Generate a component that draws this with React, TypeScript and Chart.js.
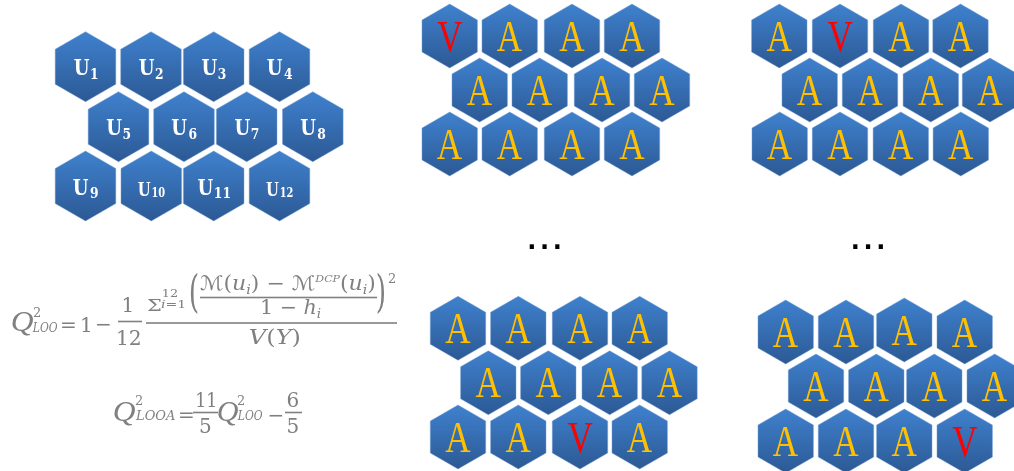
import React, { useEffect, useRef } from "react";
import { Chart, registerables } from "chart.js";

Chart.register(...registerables);

// ---- data ----
const unitIds = ["1", "2", "3", "4", "5", "6", "7", "8", "9", "10", "11", "12"];
const smallLabelUnits = ["10", "12"];
const unitsX = [85.5, 151, 213.7, 279.5, 118.5, 184, 246.7, 312.8, 85.5, 151.3, 213.7, 279.5];
const unitsY = [66.7, 66.7, 66.7, 66.7, 126.7, 126.7, 126.7, 126.7, 186, 186, 186, 186];

// left-out unit for each of the four folds shown
const validatedUnit = [1, 2, 11, 12];

const fold1X = [449.7, 509.7, 572, 632, 479.7, 539.7, 602, 662, 449.7, 509.7, 572, 632];
const fold1Y = [36, 36, 36, 36, 90, 90, 90, 90, 144, 144, 144, 144];
const fold2X = [779.3, 840, 901, 960.5, 809.7, 870, 930.8, 990, 779.7, 840, 900.8, 960.8];
const fold2Y = [36, 36, 36, 36, 90, 90, 90, 90, 144, 144, 144, 144];
const fold11X = [458, 518.3, 580, 639.7, 488.3, 548.3, 609.7, 669.5, 458, 518.3, 580, 639.7];
const fold11Y = [328.3, 328.3, 328.3, 328.3, 382.8, 382.8, 382.8, 382.8, 437, 437, 437, 437];
const fold12X = [785.7, 846, 904.3, 964.7, 816, 876.3, 934.3, 994.7, 785.7, 846, 904.3, 964.7];
const fold12Y = [332, 332, 330, 332, 386, 386, 386, 386, 441, 441, 441, 441];

const foldXs = [fold1X, fold2X, fold11X, fold12X];
const foldYs = [fold1Y, fold2Y, fold11Y, fold12Y];

const ellipsisX = [544.5, 868];
const ellipsisY = [249, 249];

// ---- styles ----
const SERIF = '"Liberation Serif", "DejaVu Serif", "DejaVu Sans", serif';
const MATH = '"DejaVu Serif", "DejaVu Sans", serif';
const DJ = '"DejaVu Serif", serif';
const font = (size: number, italic = false, bold = false, fam = SERIF) =>
  `${italic ? "italic " : ""}${bold ? "bold " : ""}${size}px ${fam}`;
const mf = (size: number, italic = false) => font(size, italic, false, MATH);
const GRAY = "#808080";
const HEX_TOP = "#3f81ce";
const HEX_BOTTOM = "#2c5994";

function hexPath(ctx: CanvasRenderingContext2D, cx: number, cy: number, r: number) {
  ctx.beginPath();
  for (let k = 0; k < 6; k++) {
    const a = (-90 + 60 * k) * (Math.PI / 180);
    const px = cx + r * Math.cos(a);
    const py = cy + r * Math.sin(a);
    if (k === 0) ctx.moveTo(px, py);
    else ctx.lineTo(px, py);
  }
  ctx.closePath();
}

function ink(ctx: CanvasRenderingContext2D, text: string, f: string) {
  ctx.font = f;
  ctx.textAlign = "left";
  ctx.textBaseline = "alphabetic";
  const m = ctx.measureText(text);
  return {
    l: -m.actualBoundingBoxLeft,
    r: m.actualBoundingBoxRight,
    t: -m.actualBoundingBoxAscent,
    b: m.actualBoundingBoxDescent,
    w: m.width,
  };
}

// left ink edge at x0, optionally fit ink width to x1
function put(ctx: CanvasRenderingContext2D, text: string, f: string, x0: number, x1: number | null, base: number) {
  const k = ink(ctx, text, f);
  const sx = x1 != null ? (x1 - x0) / (k.r - k.l) : 1;
  ctx.save();
  ctx.translate(x0, base);
  ctx.scale(sx, 1);
  ctx.fillText(text, -k.l, 0);
  ctx.restore();
}

// ink centred horizontally on cx
function putC(ctx: CanvasRenderingContext2D, text: string, f: string, cx: number, base: number, sx = 1) {
  const k = ink(ctx, text, f);
  ctx.save();
  ctx.translate(cx, base);
  ctx.scale(sx, 1);
  ctx.fillText(text, -(k.l + k.r) / 2, 0);
  ctx.restore();
}

// ink centred on both axes
function putCV(ctx: CanvasRenderingContext2D, text: string, f: string, cx: number, cy: number) {
  const k = ink(ctx, text, f);
  ctx.fillText(text, cx - (k.l + k.r) / 2, cy - (k.t + k.b) / 2);
}

// ink fitted into a box
function putBox(ctx: CanvasRenderingContext2D, text: string, f: string, x0: number, x1: number, y0: number, y1: number) {
  const k = ink(ctx, text, f);
  const sx = (x1 - x0) / (k.r - k.l);
  const sy = (y1 - y0) / (k.b - k.t);
  ctx.save();
  ctx.translate(x0, y0);
  ctx.scale(sx, sy);
  ctx.fillText(text, -k.l, -k.t);
  ctx.restore();
}

type Item = { t: string; f: string; dy?: number };
function run(ctx: CanvasRenderingContext2D, items: Item[], x0: number, x1: number, base: number) {
  const pos: number[] = [];
  let x = 0;
  let inkL = 0;
  let inkR = 0;
  items.forEach((it, i) => {
    const k = ink(ctx, it.t, it.f);
    if (i === 0) inkL = k.l;
    pos.push(x);
    if (i === items.length - 1) inkR = x + k.r;
    x += k.w;
  });
  const sx = (x1 - x0) / (inkR - inkL);
  ctx.save();
  ctx.translate(x0, base);
  ctx.scale(sx, 1);
  items.forEach((it, i) => {
    ctx.font = it.f;
    ctx.fillText(it.t, pos[i] - inkL, it.dy || 0);
  });
  ctx.restore();
}

function bar(ctx: CanvasRenderingContext2D, x0: number, x1: number, y: number) {
  ctx.fillRect(x0, y - 0.8, x1 - x0, 1.6);
}

const hexPlugin = {
  id: "hexagons",
  afterDatasetsDraw(chart: any) {
    const ctx: CanvasRenderingContext2D = chart.ctx;
    const xs = chart.scales.x;
    chart.data.datasets.forEach((ds: any, di: number) => {
      const meta = chart.getDatasetMeta(di);
      const r = Math.abs(xs.getPixelForValue(ds.hexSize) - xs.getPixelForValue(0));
      meta.data.forEach((el: any, j: number) => {
        const cx = el.x;
        const cy = el.y;
        ctx.save();
        hexPath(ctx, cx, cy, r);
        const g = ctx.createLinearGradient(cx, cy - r, cx, cy + r);
        g.addColorStop(0, HEX_TOP);
        g.addColorStop(1, HEX_BOTTOM);
        ctx.fillStyle = g;
        ctx.fill();
        ctx.lineWidth = 0.8;
        ctx.strokeStyle = "rgba(120,160,215,0.55)";
        ctx.stroke();
        ctx.restore();

        const label: string = ds.labelsText[j];
        ctx.save();
        if (di === 0) {
          const small = smallLabelUnits.includes(label);
          ctx.fillStyle = "#ffffff";
          const fU = font(small ? 18 : 22, false, true, DJ);
          const fS = font(small ? 12 : 15, false, true, DJ);
          const su = 0.82;
          const kU = ink(ctx, "U", fU);
          const kS = ink(ctx, label, fS);
          const wU = (kU.r - kU.l) * su;
          const wS = (kS.r - kS.l) * su;
          const gap = 1.5;
          const total = wU + gap + wS;
          const x0 = cx - total / 2;
          put(ctx, "U", fU, x0, x0 + wU, cy + (small ? 9.8 : 8.5));
          put(ctx, label, fS, x0 + wU + gap, x0 + wU + gap + wS, cy + (small ? 11 : 11.8));
        } else {
          ctx.fillStyle = label === "V" ? "#ff0000" : "#ffc000";
          putC(ctx, label, font(45), cx, cy + 14.5, 0.78);
        }
        ctx.restore();
      });
    });
  },
};

const formulaPlugin = {
  id: "formulas",
  afterDraw(chart: any) {
    const ctx: CanvasRenderingContext2D = chart.ctx;
    ctx.save();
    ctx.fillStyle = GRAY;
    const f20 = mf(20);
    const fi20 = mf(20, true);
    const f13 = mf(13);
    const fi13 = mf(13, true);
    const fQ = font(24, true);

    // Q^2_LOO = 1 - 1/12 * ...
    putBox(ctx, "Q", fQ, 12, 33, 313, 336);
    put(ctx, "2", f13, 33, 40, 317);
    put(ctx, "LOO", fi13, 32, 58, 332);
    putCV(ctx, "=", f20, 68.5, 325);
    putC(ctx, "1", f20, 86, 332);
    putCV(ctx, "−", f20, 103.5, 324.5);
    putC(ctx, "1", f20, 127.5, 312);
    bar(ctx, 118, 142, 321.5);
    put(ctx, "12", f20, 118, 140, 345);

    putBox(ctx, "Σ", mf(18), 147, 161, 298, 311);
    put(ctx, "12", mf(11), 163, 177, 297);
    run(ctx, [{ t: "i", f: mf(11, true) }, { t: "=1", f: mf(11) }], 161, 185, 308);

    putBox(ctx, "(", mf(20), 190, 198, 272, 316);
    run(
      ctx,
      [
        { t: "ℳ", f: mf(20) },
        { t: "(", f: f20 },
        { t: "u", f: fi20 },
        { t: "i", f: fi13, dy: 4 },
        { t: ")", f: f20 },
        { t: " − ", f: f20 },
        { t: "ℳ", f: mf(20) },
        { t: "DCP", f: mf(10, true), dy: -8 },
        { t: "(", f: f20 },
        { t: "u", f: fi20 },
        { t: "i", f: fi13, dy: 4 },
        { t: ")", f: f20 },
      ],
      200,
      375,
      290
    );
    bar(ctx, 200, 377, 297.5);
    run(
      ctx,
      [
        { t: "1 − ", f: f20 },
        { t: "h", f: fi20 },
        { t: "i", f: fi13, dy: 4 },
      ],
      262,
      321,
      314
    );
    putBox(ctx, ")", mf(20), 377, 385, 272, 316);
    put(ctx, "2", f13, 388, 395, 283);
    bar(ctx, 146, 397, 323);
    run(
      ctx,
      [
        { t: "V", f: fi20 },
        { t: "(", f: f20 },
        { t: "Y", f: fi20 },
        { t: ")", f: f20 },
      ],
      250,
      300,
      344
    );

    // Q^2_LOOA = 11/5 Q^2_LOO - 6/5
    putBox(ctx, "Q", fQ, 114, 135, 403, 426);
    put(ctx, "2", f13, 135, 142, 405);
    put(ctx, "LOOA", fi13, 135, 175, 420);
    putCV(ctx, "=", f20, 186.5, 415);
    put(ctx, "11", f20, 197, 215, 407);
    bar(ctx, 193, 218, 412.5);
    putC(ctx, "5", f20, 205.5, 433);
    putBox(ctx, "Q", fQ, 218, 238, 403, 426);
    put(ctx, "2", f13, 237, 244, 405);
    put(ctx, "LOO", fi13, 237, 263, 420);
    putCV(ctx, "−", f20, 276, 415);
    putC(ctx, "6", f20, 293, 407);
    bar(ctx, 285, 302, 412.5);
    putC(ctx, "5", f20, 293, 433);

    // ellipses
    ctx.fillStyle = "#000000";
    const fd = 'bold 24px "DejaVu Sans", sans-serif';
    ellipsisX.forEach((ex, i) => {
      for (let k = -1; k <= 1; k++) putC(ctx, ".", fd, ex + k * 12.8, ellipsisY[i]);
    });
    ctx.restore();
  },
};

export default function App() {
  const ref = useRef<HTMLCanvasElement | null>(null);
  useEffect(() => {
    if (!ref.current) return;
    const datasets = [
      {
        label: "units",
        hexSize: 35,
        labelsText: unitIds,
        data: unitsX.map((x, i) => ({ x, y: unitsY[i] })),
      },
      ...validatedUnit.map((v, g) => ({
        label: `fold ${v}`,
        hexSize: 32,
        labelsText: unitIds.map((_, i) => (i === v - 1 ? "V" : "A")),
        data: foldXs[g].map((x, i) => ({ x, y: foldYs[g][i] })),
      })),
    ].map((d) => ({ ...d, pointRadius: 0, pointHoverRadius: 0, showLine: false }));

    const chart = new Chart(ref.current, {
      type: "scatter",
      data: { datasets } as any,
      options: {
        animation: false,
        responsive: false,
        events: [],
        layout: { padding: 0 },
        scales: {
          x: { type: "linear", min: 0, max: 1014, display: false },
          y: { type: "linear", min: 0, max: 471, reverse: true, display: false },
        },
        plugins: { legend: { display: false }, tooltip: { enabled: false } },
      },
      plugins: [hexPlugin, formulaPlugin],
    } as any);
    return () => chart.destroy();
  }, []);
  return (
    <div style={{ position: "fixed", left: 0, top: 0, width: 1014, height: 471, background: "#ffffff" }}>
      <canvas ref={ref} width={1014} height={471} style={{ display: "block" }} />
    </div>
  );
}
